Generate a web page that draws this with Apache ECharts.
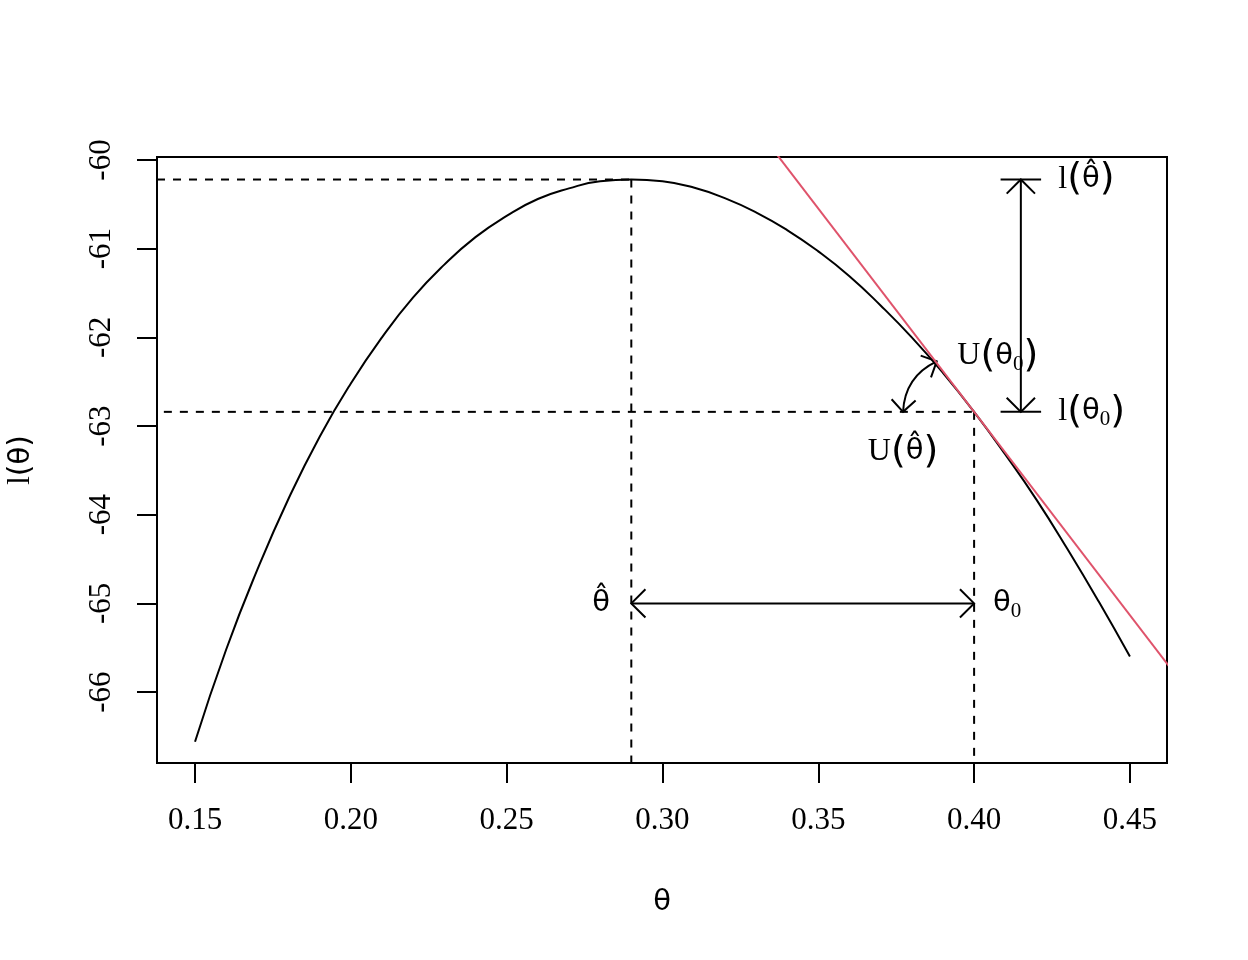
<!DOCTYPE html>
<html>
<head>
<meta charset="utf-8">
<title>l(θ)</title>
<script src="https://cdn.jsdelivr.net/npm/echarts@6/dist/echarts.min.js"></script>
<style>
  html, body { margin: 0; padding: 0; background: #fff; }
  #chart { width: 1248px; height: 960px; }
</style>
</head>
<body>
<div id="chart"></div>
<script>
// curve values, one every 0.01
const theta = [0.15, 0.16, 0.17, 0.18, 0.19, 0.20, 0.21, 0.22, 0.23, 0.24,
               0.25, 0.26, 0.27, 0.28, 0.29, 0.30, 0.31, 0.32, 0.33, 0.34,
               0.35, 0.36, 0.37, 0.38, 0.39, 0.40, 0.41, 0.42, 0.43, 0.44, 0.45];
const loglik = [-66.56, -65.52, -64.62, -63.82, -63.12, -62.52, -62.00, -61.55, -61.18, -60.87,
                -60.63, -60.44, -60.32, -60.24, -60.22, -60.24, -60.31, -60.43, -60.59, -60.79,
                -61.03, -61.31, -61.64, -62.00, -62.40, -62.84, -63.32, -63.83, -64.39, -64.98, -65.60];

const thetaHat = 0.29;
const lHat = -60.22;
const theta0 = 0.40;
const l0 = -62.84;

// red tangent at theta0, two points past the plot edges (clipped)
const tangentX = [0.33, 0.47];
const tangentY = [-59.63, -66.05];

const xTicks = [0.15, 0.20, 0.25, 0.30, 0.35, 0.40, 0.45];
const yTicks = [-66, -65, -64, -63, -62, -61, -60];

const xRange = [0.1378, 0.4619];
const yRange = [-66.80, -59.966];

// dashed guides [x1, y1, x2, y2]
const guides = [
  [xRange[0], lHat, thetaHat, lHat],
  [thetaHat, lHat, thetaHat, yRange[0]],
  [0.14, l0, theta0, l0],
  [theta0, l0, theta0, yRange[0]]
];

// double headed arrows [x1, y1, x2, y2, bend]
const arrows = [
  [thetaHat, -65, theta0, -65, 0],
  [0.415, lHat, 0.415, l0, 0],
  [0.3772, l0, 0.388, -62.27, 0.3]
];

// flat bars at the ends of the vertical arrow
const bars = [
  [0.4085, lHat, 0.4215, lHat],
  [0.4085, l0, 0.4215, l0]
];

const SERIF = 'Liberation Serif';
const SANS = 'DejaVu Sans';

const rich = {
  s: { fontFamily: SERIF, fontSize: 32, color: '#000' },
  g: { fontFamily: SANS, fontSize: 29, color: '#000' },
  p: { fontFamily: SANS, fontSize: 38, color: '#000' },
  q: { fontFamily: SANS, fontSize: 30, color: '#000' },
  sub: { fontFamily: SERIF, fontSize: 21, color: '#000', padding: [16, 0, 0, 0] }
};

const notes = [
  { value: [0.427, lHat], text: '{s|l}{p|(}{g|θ\u0302}{p|)}', pos: 'right' },
  { value: [0.427, l0], text: '{s|l}{p|(}{g|θ}{sub|0}{p|)}', pos: 'right' },
  { value: [0.3946, -62.21], text: '{s|U}{p|(}{g|θ}{sub|0}{p|)}', pos: 'right' },
  { value: [0.3772, -63.29], text: '{s|U}{p|(}{g|θ\u0302}{p|)}', pos: 'inside' },
  { value: [0.2803, -65], text: '{g|θ\u0302}', pos: 'inside' },
  { value: [0.4061, -65], text: '{g|θ}{sub|0}', pos: 'right' }
];

const chart = echarts.init(document.getElementById('chart'), null, { renderer: 'canvas' });

function segment(dashed) {
  return function (params, api) {
    const a = api.coord([api.value(0), api.value(1)]);
    const b = api.coord([api.value(2), api.value(3)]);
    return {
      type: 'line',
      shape: { x1: a[0], y1: a[1], x2: b[0], y2: b[1] },
      style: { stroke: '#000', lineWidth: 2, lineDash: dashed ? [8, 8] : null }
    };
  };
}

// open "V" arrow head at tip, coming from point "from"
function head(tip, from, len) {
  const dx = tip[0] - from[0], dy = tip[1] - from[1];
  const d = Math.hypot(dx, dy);
  const vx = -dx / d, vy = -dy / d;
  const ang = Math.PI / 4;
  const ends = [-1, 1].map(s => {
    const c = Math.cos(ang), sn = Math.sin(ang) * s;
    return [tip[0] + len * (vx * c - vy * sn), tip[1] + len * (vx * sn + vy * c)];
  });
  return {
    type: 'polyline',
    shape: { points: [ends[0], tip, ends[1]] },
    style: { stroke: '#000', lineWidth: 2, fill: null }
  };
}

function renderArrow(params, api) {
  const p1 = api.coord([api.value(0), api.value(1)]);
  const p2 = api.coord([api.value(2), api.value(3)]);
  const bend = api.value(4);
  const style = { stroke: '#000', lineWidth: 2, fill: null };
  if (!bend) {
    return {
      type: 'group',
      children: [
        { type: 'line', shape: { x1: p1[0], y1: p1[1], x2: p2[0], y2: p2[1] }, style: style },
        head(p1, p2, 20),
        head(p2, p1, 20)
      ]
    };
  }
  const dx = p2[0] - p1[0], dy = p2[1] - p1[1];
  const cp = [(p1[0] + p2[0]) / 2 + bend * dy, (p1[1] + p2[1]) / 2 - bend * dx];
  return {
    type: 'group',
    children: [
      { type: 'bezierCurve', shape: { x1: p1[0], y1: p1[1], x2: p2[0], y2: p2[1], cpx1: cp[0], cpy1: cp[1] }, style: style },
      head(p1, cp, 17),
      head(p2, cp, 17)
    ]
  };
}

const option = {
  animation: false,
  backgroundColor: '#fff',
  grid: {
    left: 157, right: 81, top: 157, bottom: 197,
    show: true, borderColor: '#000', borderWidth: 2,
    outerBoundsMode: 'none'
  },
  xAxis: {
    type: 'value',
    min: xRange[0],
    max: xRange[1],
    name: '{g|θ}',
    nameLocation: 'middle',
    nameGap: 125,
    nameTextStyle: { rich: rich },
    axisLine: { show: false },
    splitLine: { show: false },
    axisTick: {
      show: true, length: 20, customValues: xTicks,
      lineStyle: { color: '#000', width: 2 }
    },
    axisLabel: {
      customValues: xTicks, margin: 42,
      fontFamily: SERIF, fontSize: 31, color: '#000',
      formatter: v => v.toFixed(2)
    }
  },
  yAxis: {
    type: 'value',
    min: yRange[0],
    max: yRange[1],
    name: '{s|l}{q|(}{g|θ}{q|)}',
    nameLocation: 'middle',
    nameGap: 120,
    nameTextStyle: { rich: rich },
    axisLine: { show: false },
    splitLine: { show: false },
    axisTick: {
      show: true, length: 20, customValues: yTicks,
      lineStyle: { color: '#000', width: 2 }
    },
    axisLabel: {
      customValues: yTicks, margin: 40, rotate: 90,
      fontFamily: SERIF, fontSize: 31, color: '#000',
      formatter: v => String(v)
    }
  },
  series: [
    {
      name: 'guides',
      type: 'custom',
      renderItem: segment(true),
      encode: { x: [0, 2], y: [1, 3] },
      data: guides,
      silent: true
    },
    {
      name: 'bars',
      type: 'custom',
      renderItem: segment(false),
      encode: { x: [0, 2], y: [1, 3] },
      data: bars,
      silent: true
    },
    {
      name: 'l(theta)',
      type: 'line',
      data: theta.map((t, i) => [t, loglik[i]]),
      smooth: true,
      showSymbol: false,
      symbol: 'none',
      lineStyle: { color: '#000', width: 2 }
    },
    {
      name: 'tangent',
      type: 'line',
      data: tangentX.map((t, i) => [t, tangentY[i]]),
      showSymbol: false,
      symbol: 'none',
      clip: true,
      lineStyle: { color: '#DF536B', width: 2 }
    },
    {
      name: 'arrows',
      type: 'custom',
      renderItem: renderArrow,
      encode: { x: [0, 2], y: [1, 3] },
      data: arrows,
      silent: true
    },
    {
      name: 'notes',
      type: 'scatter',
      symbolSize: 0,
      silent: true,
      itemStyle: { opacity: 1 },
      data: notes.map(n => ({
        value: n.value,
        label: {
          show: true,
          position: n.pos,
          distance: 0,
          color: '#000',
          opacity: 1,
          formatter: n.text,
          rich: rich
        }
      }))
    }
  ]
};

chart.setOption(option);

window.addEventListener('resize', function () {
  chart.resize();
});
</script>
</body>
</html>
